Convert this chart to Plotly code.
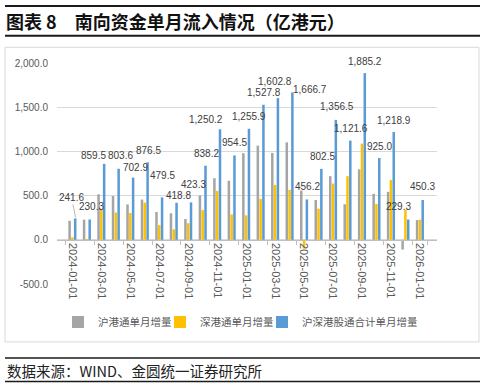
import plotly.graph_objects as go

# ---------------- data ----------------
months = ["2024-01-01", "2024-02-01", "2024-03-01", "2024-04-01", "2024-05-01", "2024-06-01",
          "2024-07-01", "2024-08-01", "2024-09-01", "2024-10-01", "2024-11-01", "2024-12-01",
          "2025-01-01", "2025-02-01", "2025-03-01", "2025-04-01", "2025-05-01", "2025-06-01",
          "2025-07-01", "2025-08-01", "2025-09-01", "2025-10-01", "2025-11-01", "2025-12-01",
          "2026-01-01"]
sh_connect = [215, 228, 515, 495, 400, 455, 315, 300, 235, 502, 697, 668,
              980, 1065, 982, 1102, 556, 450, 720, 402, 797, 520, 543, -110, 223]
sz_connect = [27, 2, 345, 309, 303, 421, 165, 119, 188, 336, 553, 287,
              276, 463, 621, 565, -100, 352, 636, 720, 1088, 405, 676, 339, 227]
total = [241.6, 230.3, 859.5, 803.6, 702.9, 876.5, 479.5, 418.8, 423.3, 838.2, 1250.2, 954.5,
         1255.9, 1527.8, 1602.8, 1666.7, 456.2, 802.5, 1356.5, 1121.6, 1885.2, 925.0, 1218.9, 229.3,
         450.3]
y_tickvals = [-500, 0, 500, 1000, 1500, 2000]
y_ticktext = ["-500.0", "0.0", "500.0", "1,000.0", "1,500.0", "2,000.0"]
series_names = ["沪港通单月增量", "深港通单月增量", "沪深港股通合计单月增量"]

# label placement offsets (pixels, styling only)
lbl_dx = [-0.9, 4.2, -8, 4.5, 5.6, 3.4, 3.2, 4.5, 4.8, 3.6, -11.6, 3.2, 3, 3.8, -0.4, 20.4,
          3.2, 4, 3.5, 3.6, 3.1, 3.2, 3, -7.2, 2.6]
lbl_up = [21, 12.9, 8.8, 13.7, 10, 12.3, 21.8, 7.6, 18.2, 12.4, 9.8, 13.1, 11.9, 12.2, 16.6,
          3.2, 12.8, 12.1, 13, 12.2, 12.1, 12, 11.9, 13, 13.1]

W, H = 486, 387
L, R_EDGE, TOP, BOT = 57, 437, 62.7, 284
PW, PH = R_EDGE - L, BOT - TOP


def px(x):
    return (x - L) / PW


def py(y):
    return (BOT - y) / PH


colors = ["#A5A5A5", "#FFC000", "#5B9BD5"]
legend_widths = [57, 57, 125]
fig = go.Figure()
for name, vals, c, lw in zip(series_names, [sh_connect, sz_connect, total], colors, legend_widths):
    fig.add_trace(go.Bar(x=months, y=vals, name=name, legendwidth=lw,
                         marker=dict(color=c, line=dict(width=0))))

num_font = dict(family="Liberation Sans, Arial, sans-serif", size=10, color="#404040")
annotations = []
for i, (m, v) in enumerate(zip(months, total)):
    txt = f"{v:,.1f}"
    if i == 0:
        annotations.append(dict(x=m, y=v, xref="x", yref="y", text=txt, showarrow=True,
                                arrowhead=0, arrowwidth=0.8, arrowcolor="#A6A6A6",
                                xshift=3.4, ax=lbl_dx[i] - 3.4, ay=-lbl_up[i],
                                font=num_font, standoff=1))
    else:
        annotations.append(dict(x=m, y=v, xref="x", yref="y", text=txt, showarrow=False,
                                xshift=lbl_dx[i], yshift=lbl_up[i], xanchor="center",
                                yanchor="middle", font=num_font))

# source text
annotations.append(dict(x=px(5), y=py(371), xref="paper", yref="paper", xanchor="left",
                        yanchor="middle", showarrow=False,
                        text="数据来源：WIND、金圆统一证券研究所",
                        font=dict(family="Noto Sans CJK SC", size=14.5, color="#222222")))

shapes = [
    dict(type="line", xref="paper", yref="paper", x0=px(5), x1=px(480), y0=py(5.7), y1=py(5.7),
         line=dict(color="#1a1a1a", width=2)),
    dict(type="line", xref="paper", yref="paper", x0=px(5), x1=px(480), y0=py(35.5), y1=py(35.5),
         line=dict(color="#1a1a1a", width=2)),
    dict(type="rect", xref="paper", yref="paper", x0=px(5), x1=px(479), y0=py(342), y1=py(47),
         line=dict(color="#D9D9D9", width=1)),
    dict(type="line", xref="paper", yref="paper", x0=px(5), x1=px(480), y0=py(358), y1=py(358),
         line=dict(color="#1a1a1a", width=1.5)),
    dict(type="line", xref="paper", yref="paper", x0=px(5), x1=px(480), y0=py(381.7), y1=py(381.7),
         line=dict(color="#1a1a1a", width=1.5)),
]

fig.update_layout(
    width=W, height=H,
    margin=dict(l=L, r=W - R_EDGE, t=TOP, b=H - BOT, pad=0),
    paper_bgcolor="white", plot_bgcolor="white",
    barmode="group", bargap=0.42, bargroupgap=0.1,
    title=dict(text="<b>图表 8\u3000南向资金单月流入情况（亿港元）</b>",
               x=6 / W, xanchor="left", xref="container",
               y=1 - 23 / H, yanchor="middle", yref="container",
               font=dict(family="Noto Sans CJK SC", size=18, color="#111111")),
    showlegend=True,
    legend=dict(orientation="h", x=px(58), xanchor="left", y=py(322), yanchor="middle",
                font=dict(family="Noto Sans CJK SC, Liberation Sans", size=10.5, color="#595959"),
                itemwidth=30, entrywidthmode="pixels",
                traceorder="normal", bgcolor="rgba(0,0,0,0)"),
    annotations=annotations,
    shapes=shapes,
    xaxis=dict(type="category", categoryarray=months, categoryorder="array",
               tickvals=months[::2], ticktext=months[::2], tickangle=90,
               tickfont=dict(family="Liberation Sans, Arial, sans-serif", size=11, color="#595959"),
               showline=True, linecolor="#BFBFBF", linewidth=1,
               ticks="outside", tickson="boundaries", ticklen=4, tickcolor="#BFBFBF",
               anchor="free", position=0.2, showgrid=False, zeroline=False),
    yaxis=dict(range=[-500, 2000], tickvals=y_tickvals, ticktext=y_ticktext,
               showgrid=True, gridcolor="#D9D9D9", gridwidth=1, zeroline=False, showline=False,
               ticks="", ticklabelstandoff=8,
               tickfont=dict(family="Liberation Sans, Arial, sans-serif", size=10, color="#595959")),
    font=dict(family="Noto Sans CJK SC"),
)

fig.write_html("out.html", config={"displayModeBar": False},
               post_script="document.body.style.margin='0';document.body.style.padding='0';")
